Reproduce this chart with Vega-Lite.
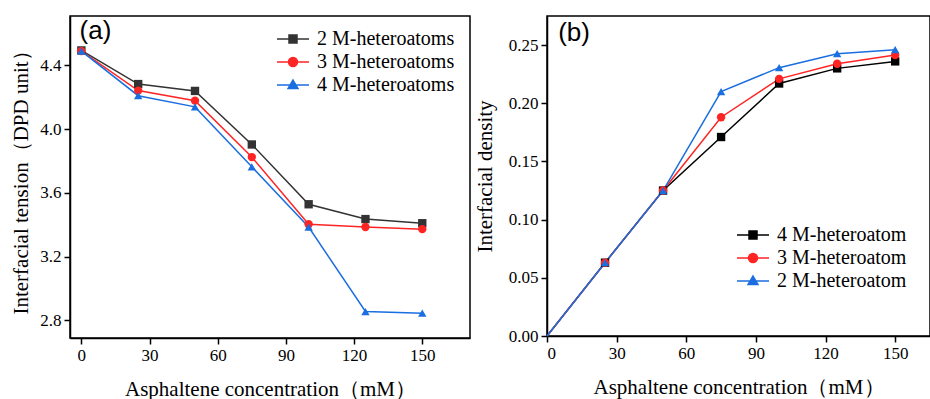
{
  "$schema": "https://vega.github.io/schema/vega-lite/v6.json",
  "padding": {"left": 10, "top": 15, "right": 0, "bottom": 0},
  "background": "white",
  "spacing": 2,
  "config": {
    "view": {"stroke": "black", "strokeWidth": 1.5},
    "axis": {
      "grid": false,
      "domainColor": "black",
      "domainWidth": 1.5,
      "tickColor": "black",
      "tickWidth": 1.5,
      "labelColor": "black",
      "labelFont": "Liberation Serif",
      "labelFontSize": 17,
      "labelPadding": 3,
      "titleFont": "Liberation Serif",
      "titleFontSize": 21,
      "titleFontWeight": "normal",
      "titleColor": "black"
    },
    "legend": {
      "labelFont": "Liberation Serif",
      "labelFontSize": 20,
      "labelColor": "black",
      "symbolSize": 256,
      "symbolStrokeWidth": 1.5,
      "padding": 0,
      "rowPadding": 3,
      "labelOffset": 14
    }
  },
  "datasets": {
    "a": [
      {"series": "2 M-heteroatoms", "c": 0, "v": 4.494},
      {"series": "2 M-heteroatoms", "c": 25, "v": 4.283},
      {"series": "2 M-heteroatoms", "c": 50, "v": 4.24},
      {"series": "2 M-heteroatoms", "c": 75, "v": 3.904},
      {"series": "2 M-heteroatoms", "c": 100, "v": 3.529},
      {"series": "2 M-heteroatoms", "c": 125, "v": 3.436},
      {"series": "2 M-heteroatoms", "c": 150, "v": 3.41},
      {"series": "3 M-heteroatoms", "c": 0, "v": 4.49},
      {"series": "3 M-heteroatoms", "c": 25, "v": 4.242},
      {"series": "3 M-heteroatoms", "c": 50, "v": 4.179},
      {"series": "3 M-heteroatoms", "c": 75, "v": 3.825},
      {"series": "3 M-heteroatoms", "c": 100, "v": 3.404},
      {"series": "3 M-heteroatoms", "c": 125, "v": 3.386},
      {"series": "3 M-heteroatoms", "c": 150, "v": 3.373},
      {"series": "4 M-heteroatoms", "c": 0, "v": 4.49},
      {"series": "4 M-heteroatoms", "c": 25, "v": 4.21},
      {"series": "4 M-heteroatoms", "c": 50, "v": 4.14},
      {"series": "4 M-heteroatoms", "c": 75, "v": 3.764},
      {"series": "4 M-heteroatoms", "c": 100, "v": 3.386},
      {"series": "4 M-heteroatoms", "c": 125, "v": 2.856},
      {"series": "4 M-heteroatoms", "c": 150, "v": 2.846}
    ],
    "b": [
      {"series": "4 M-heteroatom", "c": 0, "v": 0},
      {"series": "4 M-heteroatom", "c": 25, "v": 0.063},
      {"series": "4 M-heteroatom", "c": 50, "v": 0.125},
      {"series": "4 M-heteroatom", "c": 75, "v": 0.171},
      {"series": "4 M-heteroatom", "c": 100, "v": 0.217},
      {"series": "4 M-heteroatom", "c": 125, "v": 0.23},
      {"series": "4 M-heteroatom", "c": 150, "v": 0.236},
      {"series": "3 M-heteroatom", "c": 0, "v": 0},
      {"series": "3 M-heteroatom", "c": 25, "v": 0.063},
      {"series": "3 M-heteroatom", "c": 50, "v": 0.125},
      {"series": "3 M-heteroatom", "c": 75, "v": 0.188},
      {"series": "3 M-heteroatom", "c": 100, "v": 0.221},
      {"series": "3 M-heteroatom", "c": 125, "v": 0.234},
      {"series": "3 M-heteroatom", "c": 150, "v": 0.2415},
      {"series": "2 M-heteroatom", "c": 0, "v": 0},
      {"series": "2 M-heteroatom", "c": 25, "v": 0.063},
      {"series": "2 M-heteroatom", "c": 50, "v": 0.125},
      {"series": "2 M-heteroatom", "c": 75, "v": 0.21},
      {"series": "2 M-heteroatom", "c": 100, "v": 0.2306},
      {"series": "2 M-heteroatom", "c": 125, "v": 0.2426},
      {"series": "2 M-heteroatom", "c": 150, "v": 0.246}
    ]
  },
  "hconcat": [
    {
      "width": 400,
      "height": 322,
      "layer": [
        {
          "data": {"name": "a"},
          "mark": {"type": "line", "strokeWidth": 1.5},
          "encoding": {
            "x": {
              "field": "c", "type": "quantitative",
              "scale": {"domain": [-5, 171], "nice": false, "zero": false},
              "axis": {
                "title": "Asphaltene concentration（mM）",
                "titlePadding": 15,
                "values": [0, 15, 30, 45, 60, 75, 90, 105, 120, 135, 150, 165],
                "labelExpr": "datum.value % 30 === 0 ? datum.label : ''",
                "tickSize": {"condition": {"test": "datum.value % 30 === 0", "value": 6}, "value": 3}
              }
            },
            "y": {
              "field": "v", "type": "quantitative",
              "scale": {"domain": [2.69, 4.71], "nice": false, "zero": false},
              "axis": {
                "title": "Interfacial tension（DPD unit）",
                "titlePadding": 8,
                "values": [2.8, 3.0, 3.2, 3.4, 3.6, 3.8, 4.0, 4.2, 4.4, 4.6],
                "labelExpr": "round(datum.value * 10) % 4 === 0 ? format(datum.value, '.1f') : ''",
                "tickSize": {"condition": {"test": "round(datum.value * 10) % 4 === 0", "value": 6}, "value": 3}
              }
            },
            "color": {"field": "series", "type": "nominal", "legend": null,
              "scale": {"domain": ["2 M-heteroatoms", "3 M-heteroatoms", "4 M-heteroatoms"], "range": ["#333333", "#ff2424", "#1a6ee0"]}}
          }
        },
        {
          "data": {"name": "a"},
          "mark": {"type": "point", "filled": true, "opacity": 1, "size": 70},
          "encoding": {
            "x": {"field": "c", "type": "quantitative"},
            "y": {"field": "v", "type": "quantitative"},
            "color": {"field": "series", "type": "nominal", "legend": null,
              "scale": {"domain": ["2 M-heteroatoms", "3 M-heteroatoms", "4 M-heteroatoms"], "range": ["#333333", "#ff2424", "#1a6ee0"]}},
            "shape": {"field": "series", "type": "nominal", "legend": null,
              "scale": {"domain": ["2 M-heteroatoms", "3 M-heteroatoms", "4 M-heteroatoms"], "range": ["square", "circle", "triangle-up"]}}
          }
        },
        {
          "data": {"name": "a"},
          "transform": [{"filter": "false"}],
          "mark": {"type": "point", "opacity": 1},
          "encoding": {
            "x": {"field": "c", "type": "quantitative"},
            "y": {"field": "v", "type": "quantitative"},
            "fill": {"field": "series", "type": "nominal",
              "scale": {"domain": ["2 M-heteroatoms", "3 M-heteroatoms", "4 M-heteroatoms"], "range": ["#333333", "#ff2424", "#1a6ee0"]},
              "legend": {"title": null, "orient": "none", "legendX": 213, "legendY": 13,
                "encoding": {"symbols": {"shape": {"value": {"signal": "datum.value[0] === '2' ? 'M-2,0H2M-0.5,-0.5H0.5V0.5H-0.5Z' : datum.value[0] === '3' ? 'M-2,0H2M-0.56,0A0.56,0.56,0,1,0,0.56,0A0.56,0.56,0,1,0,-0.56,0Z' : 'M-2,0H2M0,-0.62L0.62,0.45H-0.62Z'"}}}}}},
            "stroke": {"field": "series", "type": "nominal",
              "scale": {"domain": ["2 M-heteroatoms", "3 M-heteroatoms", "4 M-heteroatoms"], "range": ["#333333", "#ff2424", "#1a6ee0"]},
              "legend": {"title": null, "orient": "none", "legendX": 213, "legendY": 13,
                "encoding": {"symbols": {"shape": {"value": {"signal": "datum.value[0] === '2' ? 'M-2,0H2M-0.5,-0.5H0.5V0.5H-0.5Z' : datum.value[0] === '3' ? 'M-2,0H2M-0.56,0A0.56,0.56,0,1,0,0.56,0A0.56,0.56,0,1,0,-0.56,0Z' : 'M-2,0H2M0,-0.62L0.62,0.45H-0.62Z'"}}}}}}
          }
        },
        {
          "data": {"values": [{"label": "(a)"}]},
          "mark": {"type": "text", "font": "Liberation Sans", "fontSize": 26, "align": "left", "baseline": "alphabetic", "color": "black"},
          "encoding": {
            "x": {"datum": -0.8, "type": "quantitative"},
            "y": {"datum": 4.565, "type": "quantitative"},
            "text": {"field": "label", "type": "nominal"}
          }
        }
      ],
      "resolve": {"scale": {"shape": "independent", "color": "independent"}}
    },
    {
      "width": 383,
      "height": 320,
      "layer": [
        {
          "data": {"name": "b"},
          "mark": {"type": "line", "strokeWidth": 1.5},
          "encoding": {
            "x": {
              "field": "c", "type": "quantitative",
              "scale": {"domain": [0, 165], "nice": false, "zero": false},
              "axis": {
                "title": "Asphaltene concentration（mM）",
                "titlePadding": 15,
                "values": [0, 15, 30, 45, 60, 75, 90, 105, 120, 135, 150, 165],
                "labelExpr": "datum.value % 30 === 0 ? datum.label : ''",
                "tickSize": {"condition": {"test": "datum.value % 30 === 0", "value": 6}, "value": 3}
              }
            },
            "y": {
              "field": "v", "type": "quantitative",
              "scale": {"domain": [0, 0.275], "nice": false, "zero": false},
              "axis": {
                "title": "Interfacial density",
                "titlePadding": 13,
                "values": [0, 0.025, 0.05, 0.075, 0.1, 0.125, 0.15, 0.175, 0.2, 0.225, 0.25, 0.275],
                "labelExpr": "round(datum.value * 1000) % 50 === 0 ? format(datum.value, '.2f') : ''",
                "tickSize": {"condition": {"test": "round(datum.value * 1000) % 50 === 0", "value": 6}, "value": 3}
              }
            },
            "color": {"field": "series", "type": "nominal", "legend": null,
              "scale": {"domain": ["4 M-heteroatom", "3 M-heteroatom", "2 M-heteroatom"], "range": ["#000000", "#ff2424", "#1a6ee0"]}}
          }
        },
        {
          "data": {"name": "b"},
          "transform": [{"filter": "datum.c > 0"}],
          "mark": {"type": "point", "filled": true, "opacity": 1, "size": 70},
          "encoding": {
            "x": {"field": "c", "type": "quantitative"},
            "y": {"field": "v", "type": "quantitative"},
            "color": {"field": "series", "type": "nominal", "legend": null,
              "scale": {"domain": ["4 M-heteroatom", "3 M-heteroatom", "2 M-heteroatom"], "range": ["#000000", "#ff2424", "#1a6ee0"]}},
            "shape": {"field": "series", "type": "nominal", "legend": null,
              "scale": {"domain": ["4 M-heteroatom", "3 M-heteroatom", "2 M-heteroatom"], "range": ["square", "circle", "triangle-up"]}}
          }
        },
        {
          "data": {"name": "b"},
          "transform": [{"filter": "false"}],
          "mark": {"type": "point", "opacity": 1},
          "encoding": {
            "x": {"field": "c", "type": "quantitative"},
            "y": {"field": "v", "type": "quantitative"},
            "fill": {"field": "series", "type": "nominal",
              "scale": {"domain": ["4 M-heteroatom", "3 M-heteroatom", "2 M-heteroatom"], "range": ["#000000", "#ff2424", "#1a6ee0"]},
              "legend": {"title": null, "orient": "none", "legendX": 196, "legendY": 209,
                "encoding": {"symbols": {"shape": {"value": {"signal": "datum.value[0] === '4' ? 'M-2,0H2M-0.5,-0.5H0.5V0.5H-0.5Z' : datum.value[0] === '3' ? 'M-2,0H2M-0.56,0A0.56,0.56,0,1,0,0.56,0A0.56,0.56,0,1,0,-0.56,0Z' : 'M-2,0H2M0,-0.62L0.62,0.45H-0.62Z'"}}}}}},
            "stroke": {"field": "series", "type": "nominal",
              "scale": {"domain": ["4 M-heteroatom", "3 M-heteroatom", "2 M-heteroatom"], "range": ["#000000", "#ff2424", "#1a6ee0"]},
              "legend": {"title": null, "orient": "none", "legendX": 196, "legendY": 209,
                "encoding": {"symbols": {"shape": {"value": {"signal": "datum.value[0] === '4' ? 'M-2,0H2M-0.5,-0.5H0.5V0.5H-0.5Z' : datum.value[0] === '3' ? 'M-2,0H2M-0.56,0A0.56,0.56,0,1,0,0.56,0A0.56,0.56,0,1,0,-0.56,0Z' : 'M-2,0H2M0,-0.62L0.62,0.45H-0.62Z'"}}}}}}
          }
        },
        {
          "data": {"values": [{"label": "(b)"}]},
          "mark": {"type": "text", "font": "Liberation Sans", "fontSize": 26, "align": "left", "baseline": "alphabetic", "color": "black"},
          "encoding": {
            "x": {"datum": 4.8, "type": "quantitative"},
            "y": {"datum": 0.2535, "type": "quantitative"},
            "text": {"field": "label", "type": "nominal"}
          }
        }
      ],
      "resolve": {"scale": {"shape": "independent", "color": "independent"}}
    }
  ],
  "resolve": {"scale": {"color": "independent", "shape": "independent", "fill": "independent", "stroke": "independent"}}
}
